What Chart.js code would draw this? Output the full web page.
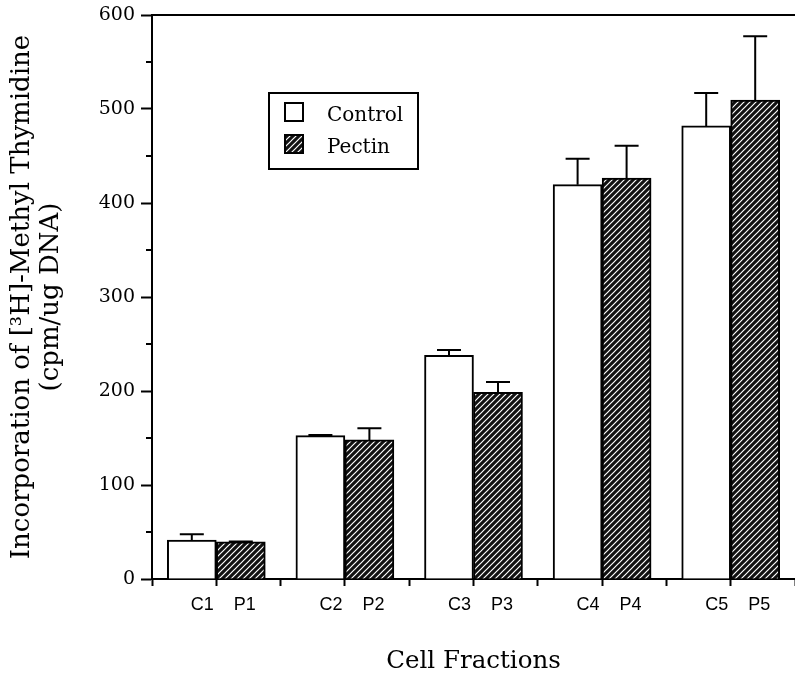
<!DOCTYPE html>
<html>
<head>
<meta charset="utf-8">
<script src="https://cdn.jsdelivr.net/npm/chart.js@4.4.1/dist/chart.umd.min.js"></script>
<style>
  html, body { margin: 0; padding: 0; background: #fff; overflow: hidden; }
</style>
</head>
<body>
<canvas id="fractionChart" width="795" height="679"></canvas>
<script>
const groups = ["1", "2", "3", "4", "5"];
const groupX = [1, 3, 5, 7, 9];
const seriesNames = ["Control", "Pectin"];
const controlValues = [41.5, 152.5, 238, 419.5, 482];
const controlErrors = [6, 0.8, 5.5, 27.5, 35];
const pectinValues = [39.5, 148, 198.5, 426.5, 509.5];
const pectinErrors = [0.5, 12.5, 11, 34.5, 68];
const yTicks = [0, 100, 200, 300, 400, 500, 600];
const yMinorTicks = [50, 150, 250, 350, 450, 550];

const canvas = document.getElementById("fractionChart");
const ctx = canvas.getContext("2d");

function makeHatch() {
  const tile = document.createElement("canvas");
  tile.width = 6;
  tile.height = 6;
  const g = tile.getContext("2d");
  g.fillStyle = "#111";
  g.fillRect(0, 0, 6, 6);
  g.strokeStyle = "#fff";
  g.lineWidth = 1.2;
  g.beginPath();
  g.moveTo(-1, 7); g.lineTo(7, -1);
  g.moveTo(-1, 1); g.lineTo(1, -1);
  g.moveTo(5, 7); g.lineTo(7, 5);
  g.stroke();
  return ctx.createPattern(tile, "repeat");
}

const hatch = makeHatch();

function toPoints(values) {
  return values.map((v, i) => ({ x: groupX[i], y: v }));
}

// whiskers drawn from the top of each bar
const errorBars = {
  id: "errorBars",
  afterDatasetsDraw(chart) {
    const c = chart.ctx;
    const y = chart.scales.y;
    c.save();
    c.strokeStyle = "#000";
    c.lineWidth = 2;
    chart.data.datasets.forEach((ds, i) => {
      chart.getDatasetMeta(i).data.forEach((bar, j) => {
        const top = y.getPixelForValue(ds.data[j].y + ds.errors[j]);
        c.beginPath();
        c.moveTo(bar.x, bar.y);
        c.lineTo(bar.x, top);
        c.moveTo(bar.x - 12, top);
        c.lineTo(bar.x + 12, top);
        c.stroke();
      });
    });
    c.restore();
  }
};

const minorTicks = {
  id: "minorTicks",
  afterDraw(chart) {
    const c = chart.ctx;
    const y = chart.scales.y;
    const left = chart.chartArea.left;
    c.save();
    c.strokeStyle = "#000";
    c.lineWidth = 2;
    yMinorTicks.forEach(v => {
      const py = y.getPixelForValue(v);
      c.beginPath();
      c.moveTo(left - 6, py);
      c.lineTo(left, py);
      c.stroke();
    });
    c.restore();
  }
};

const boxLegend = {
  id: "boxLegend",
  afterDraw(chart) {
    const c = chart.ctx;
    const area = chart.chartArea;
    const x0 = area.left + 117;
    const y0 = area.top + 78;
    c.save();
    c.lineWidth = 2;
    c.strokeStyle = "#000";
    c.fillStyle = "#fff";
    c.fillRect(x0, y0, 149, 76);
    c.strokeRect(x0, y0, 149, 76);
    c.font = "20px 'DejaVu Serif'";
    c.textBaseline = "alphabetic";
    chart.data.datasets.forEach((ds, i) => {
      const sy = y0 + 10 + i * 32;
      c.fillStyle = ds.backgroundColor;
      c.fillRect(x0 + 16, sy, 18, 18);
      c.strokeRect(x0 + 16, sy, 18, 18);
      c.fillStyle = "#000";
      c.fillText(ds.label, x0 + 58, sy + 18);
    });
    c.restore();
  }
};

new Chart(ctx, {
  type: "bar",
  data: {
    datasets: [{
      label: seriesNames[0],
      data: toPoints(controlValues),
      errors: controlErrors,
      backgroundColor: "#fff",
      borderColor: "#000",
      borderWidth: 2
    }, {
      label: seriesNames[1],
      data: toPoints(pectinValues),
      errors: pectinErrors,
      backgroundColor: hatch,
      borderColor: "#000",
      borderWidth: 2
    }]
  },
  options: {
    responsive: false,
    animation: false,
    events: [],
    barThickness: 49,
    layout: { padding: { top: 15, right: 0, bottom: 0, left: 0 } },
    plugins: {
      legend: { display: false },
      tooltip: { enabled: false }
    },
    scales: {
      x: {
        type: "linear",
        min: 0,
        max: 10,
        offset: false,
        grid: { offset: false, drawOnChartArea: false, tickLength: 7, tickWidth: 2, tickColor: "#000" },
        border: { color: "#000", width: 2 },
        ticks: {
          stepSize: 1,
          autoSkip: false,
          maxRotation: 0,
          minRotation: 0,
          labelOffset: 7,
          padding: 8,
          color: "#000",
          font: { family: "'Liberation Sans'", size: 18 },
          callback: v => {
            const i = groupX.indexOf(v);
            return i < 0 ? "" : "C" + groups[i] + "    P" + groups[i];
          }
        },
        title: {
          display: true,
          text: "Cell Fractions",
          color: "#000",
          font: { family: "'DejaVu Serif'", size: 24.5 },
          padding: { top: 0, bottom: 3 }
        },
        afterFit: s => {
          s.height = 100;
          s.paddingLeft = 0;
          s.paddingRight = 0;
        }
      },
      xTop: {
        type: "linear",
        position: "top",
        min: 0,
        max: 10,
        ticks: { display: false },
        grid: { display: false, drawTicks: false },
        border: { display: true, color: "#000", width: 2 },
        afterFit: s => { s.height = 0; }
      },
      y: {
        min: 0,
        max: 600,
        grid: {
          drawOnChartArea: false,
          tickLength: 11,
          tickWidth: 2,
          tickColor: c => yTicks.includes(c.tick.value) ? "#000" : "rgba(0,0,0,0)"
        },
        border: { color: "#000", width: 2 },
        ticks: {
          stepSize: 50,
          autoSkip: false,
          padding: 6,
          color: "#000",
          font: { family: "'DejaVu Serif'", size: 19 },
          callback: v => yTicks.includes(v) ? v : ""
        },
        title: {
          display: true,
          text: ["Incorporation of [\u00b3H]-Methyl Thymidine", "(cpm/ug DNA)"],
          color: "#000",
          font: { family: "'DejaVu Serif'", size: 26, lineHeight: 1.1 },
          padding: { top: 8, bottom: 0 }
        },
        afterFit: s => {
          s.width = 152;
          s.paddingTop = 0;
          s.paddingBottom = 0;
        }
      }
    }
  },
  plugins: [errorBars, minorTicks, boxLegend]
});
</script>
</body>
</html>
